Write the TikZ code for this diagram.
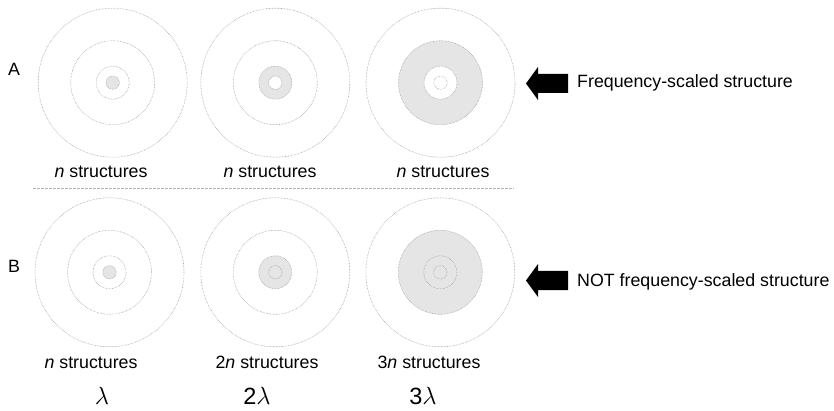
\documentclass[tikz,border=0pt]{standalone}
\usepackage{fontspec}
\setmainfont{Liberation Sans}
\begin{document}
\begin{tikzpicture}[x=1pt, y=-1pt,
  ring/.style={draw=gray!70, line width=0.6pt, dash pattern=on 0.6pt off 0.9pt},
  shade/.style={fill=gray!20},
  lbl/.style={font=\fontsize{17.8}{20}\selectfont, inner sep=0pt},
  biglbl/.style={font=\fontsize{23.5}{26}\selectfont, inner sep=0pt},
  blockarrow/.style={fill=black}]
  \useasboundingbox (0,0) rectangle (834,411);

  % Row A: frequency-scaled, same number of structures
  \coordinate (A1) at (112.7, 82.7);
  \coordinate (A2) at (275.3, 82.7);
  \coordinate (A3) at (440.5, 82.7);

  \fill[shade] (A1) circle (6.7);
  \fill[shade, even odd rule] (A2) circle (16.5) circle (6.7);
  \fill[shade, even odd rule] (A3) circle (42) circle (16.5);
  \foreach \c in {A1, A2, A3} {
    \draw[ring] (\c) circle (6.7);
    \draw[ring] (\c) circle (16.5);
    \draw[ring] (\c) circle (42);
    \draw[ring] (\c) circle (74.5);
  }

  % Row B: not frequency-scaled, more structures
  \coordinate (B1) at (109.5, 272.3);
  \coordinate (B2) at (275.3, 272.3);
  \coordinate (B3) at (440.3, 272.3);

  \fill[shade] (B1) circle (6.7);
  \fill[shade] (B2) circle (16.5);
  \fill[shade] (B3) circle (42);
  \foreach \c in {B1, B2, B3} {
    \draw[ring] (\c) circle (6.7);
    \draw[ring] (\c) circle (16.5);
    \draw[ring] (\c) circle (42);
    \draw[ring] (\c) circle (74.5);
  }

  % Separator between the rows
  \coordinate (sepL) at (33, 188.5);
  \coordinate (sepR) at (514, 188.5);
  \draw[gray!60, line width=0.6pt, dash pattern=on 2.5pt off 1.5pt] (sepL) -- (sepR);

  % Row letters
  \node[lbl] (rowA) at (14, 69) {A};
  \node[lbl] (rowB) at (14, 266) {B};

  % Counts under the circles
  \node[lbl, anchor=base] (nA1) at (101, 178) {\textit{n} structures};
  \node[lbl, anchor=base] (nA2) at (270, 178) {\textit{n} structures};
  \node[lbl, anchor=base] (nA3) at (443, 178) {\textit{n} structures};
  \node[lbl, anchor=base] (nB1) at (91, 368) {\textit{n} structures};
  \node[lbl, anchor=base] (nB2) at (267, 368) {2\textit{n} structures};
  \node[lbl, anchor=base] (nB3) at (429, 368) {3\textit{n} structures};

  % Wavelengths
  \node[biglbl, anchor=base] (lam1) at (102, 404) {$\lambda$};
  \node[biglbl, anchor=base] (lam2) at (257, 404) {2$\lambda$};
  \node[biglbl, anchor=base] (lam3) at (423, 404) {3$\lambda$};

  % Block arrows and captions
  \fill[blockarrow] (526, 83.5) -- ++(12,-16.5) -- ++(0,7) -- ++(30,0)
    -- ++(0,19) -- ++(-30,0) -- ++(0,7) -- cycle;
  \node[lbl, anchor=base west] (capA) at (577, 88) {Frequency-scaled structure};

  \fill[blockarrow] (526, 280.5) -- ++(12,-16.5) -- ++(0,7) -- ++(30,0)
    -- ++(0,19) -- ++(-30,0) -- ++(0,7) -- cycle;
  \node[lbl, anchor=base west] (capB) at (577, 287) {NOT frequency-scaled structure};
\end{tikzpicture}
\end{document}
